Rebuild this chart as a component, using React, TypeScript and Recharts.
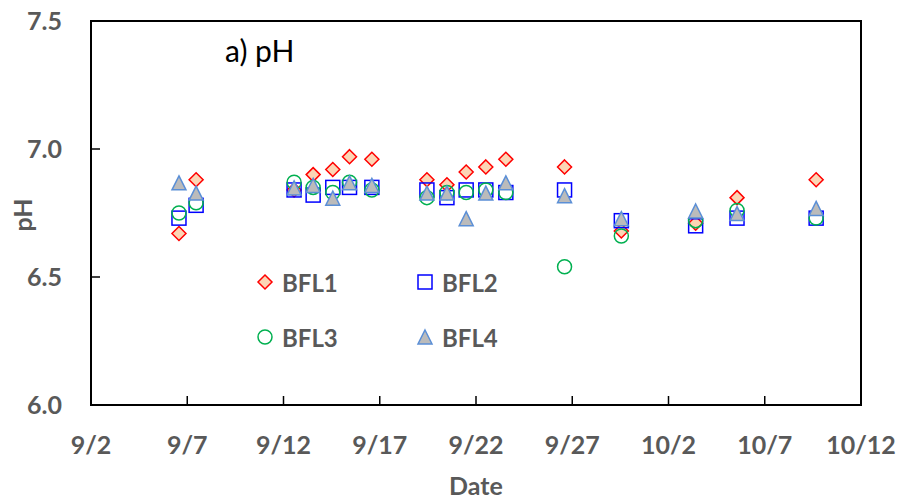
import { ScatterChart, Scatter, XAxis, YAxis, ReferenceArea } from 'recharts'

// day offsets counted from 9/2
const DAYS = [4.57, 5.46, 10.55, 11.54, 12.56, 13.43, 14.59, 17.45, 18.49, 19.49, 20.51, 21.55, 24.6, 27.55, 31.41, 33.56, 37.67]
const BFL1 = [6.67, 6.88, 6.84, 6.9, 6.92, 6.97, 6.96, 6.88, 6.86, 6.91, 6.93, 6.96, 6.93, 6.68, 6.71, 6.81, 6.88]
const BFL2 = [6.73, 6.78, 6.84, 6.82, 6.85, 6.85, 6.85, 6.84, 6.81, 6.84, 6.84, 6.83, 6.84, 6.72, 6.7, 6.73, 6.73]
const BFL3 = [6.75, 6.79, 6.87, 6.85, 6.83, 6.87, 6.84, 6.81, 6.83, 6.83, 6.84, 6.83, 6.54, 6.66, 6.72, 6.76, 6.73]
const BFL4 = [6.86, 6.82, 6.84, 6.85, 6.8, 6.86, 6.85, 6.82, 6.82, 6.72, 6.82, 6.86, 6.81, 6.72, 6.75, 6.74, 6.76]

const X_TICKS = [0, 5, 10, 15, 20, 25, 30, 35, 40]
const X_TICK_LABELS = ['9/2', '9/7', '9/12', '9/17', '9/22', '9/27', '10/2', '10/7', '10/12']
const Y_TICKS = [6.0, 6.5, 7.0, 7.5]

const toPoints = (vals: number[]) => DAYS.map((d, i) => ({ day: d, ph: vals[i] }))

const GREY = '#595959'
const FONT = 'Lato, "Open Sans", sans-serif'

const Diamond = ({ cx, cy }: any) => {
  const r = 7
  return (
    <polygon
      points={`${cx},${cy - r} ${cx + r},${cy} ${cx},${cy + r} ${cx - r},${cy}`}
      fill="#FCD5B5"
      stroke="#FF0000"
      strokeWidth={1.5}
    />
  )
}

const Square = ({ cx, cy }: any) => {
  const r = 7
  return <rect x={cx - r} y={cy - r} width={2 * r} height={2 * r} fill="none" stroke="#0000FF" strokeWidth={1.5} />
}

const Circle = ({ cx, cy }: any) => <circle cx={cx} cy={cy} r={7} fill="none" stroke="#00B050" strokeWidth={1.5} />

const Triangle = ({ cx, cy }: any) => {
  const w = 7
  return (
    <polygon
      points={`${cx},${cy - 9} ${cx + w},${cy + 5} ${cx - w},${cy + 5}`}
      fill="#BBBBBB"
      stroke="#5B8FD6"
      strokeWidth={1.5}
    />
  )
}

const LEGEND = [
  { name: 'BFL1', icon: Diamond, x: 265, y: 282 },
  { name: 'BFL2', icon: Square, x: 425, y: 282 },
  { name: 'BFL3', icon: Circle, x: 265, y: 337 },
  { name: 'BFL4', icon: Triangle, x: 425, y: 337 },
]

const tickStyle = { fill: GREY, fontSize: 25, fontWeight: 700, fontFamily: FONT }

export default function App() {
  return (
    <div style={{ position: 'absolute', left: 0, top: 0, width: 899, height: 499, background: '#fff', fontFamily: FONT }}>
      <ScatterChart width={899} height={499} margin={{ top: 21, right: 38, left: 31, bottom: 54 }}>
        <XAxis
          type="number"
          dataKey="day"
          domain={[0, 40]}
          ticks={X_TICKS}
          tickFormatter={(v) => X_TICK_LABELS[X_TICKS.indexOf(v)]}
          height={40}
          tickSize={-9}
          tickMargin={40}
          axisLine={{ stroke: '#000', strokeWidth: 2 }}
          tickLine={{ stroke: '#000', strokeWidth: 1.5 }}
          tick={tickStyle}
          interval={0}
        />
        <YAxis
          type="number"
          dataKey="ph"
          domain={[6, 7.5]}
          ticks={Y_TICKS}
          tickFormatter={(v) => v.toFixed(1)}
          width={60}
          tickSize={-9}
          tickMargin={38}
          axisLine={{ stroke: '#000', strokeWidth: 2 }}
          tickLine={{ stroke: '#000', strokeWidth: 1.5 }}
          tick={tickStyle}
          interval={0}
        />
        <ReferenceArea x1={0} x2={40} y1={6} y2={7.5} fill="none" stroke="#000" strokeWidth={2} />
        <Scatter name="BFL1" data={toPoints(BFL1)} shape={Diamond} isAnimationActive={false} />
        <Scatter name="BFL2" data={toPoints(BFL2)} shape={Square} isAnimationActive={false} />
        <Scatter name="BFL3" data={toPoints(BFL3)} shape={Circle} isAnimationActive={false} />
        <Scatter name="BFL4" data={toPoints(BFL4)} shape={Triangle} isAnimationActive={false} />
      </ScatterChart>

      <div style={{ position: 'absolute', left: 225, top: 30, fontSize: 30, color: '#000', lineHeight: '40px' }}>a) pH</div>
      <div
        style={{
          position: 'absolute',
          left: 22,
          top: 215,
          transform: 'translate(-50%, -50%) rotate(-90deg)',
          fontSize: 25,
          fontWeight: 700,
          color: GREY,
        }}
      >
        pH
      </div>
      <div
        style={{
          position: 'absolute',
          left: 476,
          top: 485,
          transform: 'translate(-50%, -50%)',
          fontSize: 25,
          fontWeight: 700,
          color: GREY,
        }}
      >
        Date
      </div>

      {LEGEND.map(({ name, icon: Icon, x, y }) => (
        <div key={name} style={{ position: 'absolute', left: x - 10, top: y - 15, height: 30, display: 'flex', alignItems: 'center' }}>
          <svg width={20} height={30}>
            <Icon cx={10} cy={name === 'BFL4' ? 17 : 15} />
          </svg>
          <span style={{ marginLeft: 7, fontSize: 24, fontWeight: 700, color: GREY }}>{name}</span>
        </div>
      ))}
    </div>
  )
}
